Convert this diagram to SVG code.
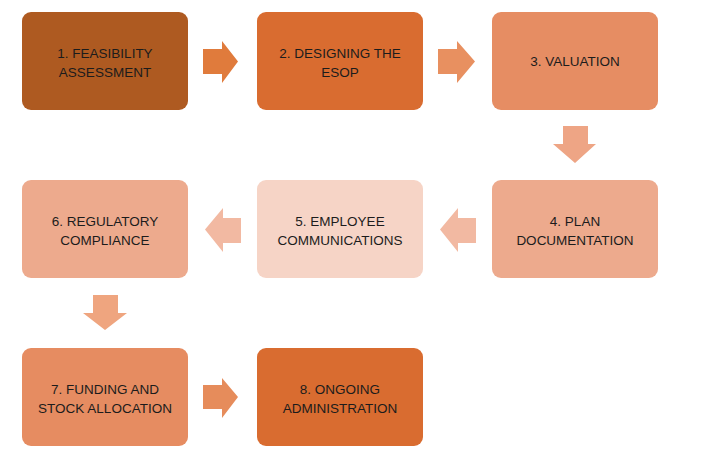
<svg xmlns="http://www.w3.org/2000/svg" width="711" height="451" viewBox="0 0 711 451">
<style>
  .box { stroke: none; }
  .lbl { font-family: "Liberation Sans", Arial, sans-serif; font-size: 13.5px; fill: #1c1c1c; text-anchor: middle; }
</style>
<rect x="0" y="0" width="711" height="451" fill="#ffffff"/>
<g id="connectors">
  <polygon points="203,49 222,49 222,41 238,61.5 222,83 222,74 203,74" fill="#E07B3C"/>
  <polygon points="438,49 457,49 457,41 475,61.5 457,83 457,74 438,74" fill="#E89060"/>
  <polygon points="563,126 588,126 588,144 596,144 575,163 553,144 563,144" fill="#EEA585"/>
  <polygon points="476,218 458,218 458,208 440,229.5 458,252 458,243 476,243" fill="#F2B9A2"/>
  <polygon points="241,218 223,218 223,208 205,229.5 223,252 223,243 241,243" fill="#F2B9A2"/>
  <polygon points="93,295 118,295 118,313 127,313 105,330 83,313 93,313" fill="#EFA57F"/>
  <polygon points="203,385 222,385 222,378 238,397 222,418 222,409 203,409" fill="#E68C5B"/>
</g>
<g id="node1">
  <rect class="box" x="22" y="12" width="166" height="98" rx="9" fill="#AE5A21"/>
  <text class="lbl" x="105" y="57.5">1. FEASIBILITY</text>
  <text class="lbl" x="105" y="76.5">ASSESSMENT</text>
</g>
<g id="node2">
  <rect class="box" x="257" y="12" width="166" height="98" rx="9" fill="#D96C30"/>
  <text class="lbl" x="340" y="57.5">2. DESIGNING THE</text>
  <text class="lbl" x="340" y="76.5">ESOP</text>
</g>
<g id="node3">
  <rect class="box" x="492" y="12" width="166" height="98" rx="9" fill="#E68D63"/>
  <text class="lbl" x="575" y="66">3. VALUATION</text>
</g>
<g id="node4">
  <rect class="box" x="492" y="180" width="166" height="98" rx="9" fill="#EDAA8D"/>
  <text class="lbl" x="575" y="225.5">4. PLAN</text>
  <text class="lbl" x="575" y="244.5">DOCUMENTATION</text>
</g>
<g id="node5">
  <rect class="box" x="257" y="180" width="166" height="98" rx="9" fill="#F6D4C6"/>
  <text class="lbl" x="340" y="225.5">5. EMPLOYEE</text>
  <text class="lbl" x="340" y="244.5">COMMUNICATIONS</text>
</g>
<g id="node6">
  <rect class="box" x="22" y="180" width="166" height="98" rx="9" fill="#EDAA8D"/>
  <text class="lbl" x="105" y="225.5">6. REGULATORY</text>
  <text class="lbl" x="105" y="244.5">COMPLIANCE</text>
</g>
<g id="node7">
  <rect class="box" x="22" y="348" width="166" height="98" rx="9" fill="#E68C61"/>
  <text class="lbl" x="105" y="393.5">7. FUNDING AND</text>
  <text class="lbl" x="105" y="412.5">STOCK ALLOCATION</text>
</g>
<g id="node8">
  <rect class="box" x="257" y="348" width="166" height="98" rx="9" fill="#D96C30"/>
  <text class="lbl" x="340" y="393.5">8. ONGOING</text>
  <text class="lbl" x="340" y="412.5">ADMINISTRATION</text>
</g>
</svg>
